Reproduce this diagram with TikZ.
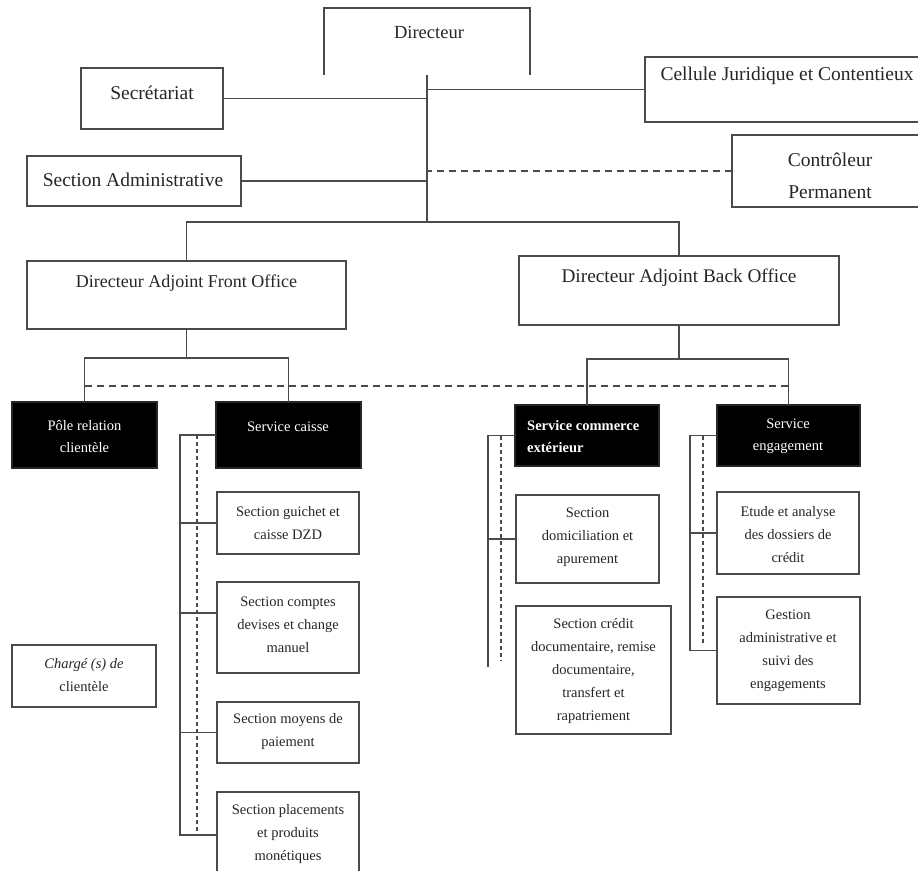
\documentclass[tikz,border=0pt]{standalone}
\usepackage{fontspec}
\setmainfont{Liberation Serif}
\usetikzlibrary{calc}
\definecolor{ln}{HTML}{4A4A4A}
\definecolor{tx}{HTML}{262626}
\begin{document}
\begin{tikzpicture}[x=1pt,y=-1pt,
  box/.style={draw=ln, line width=1.8pt, fill=white, inner sep=0pt, outer sep=0pt, anchor=north west},
  blk/.style={draw=black!85, line width=1.2pt, fill=black, inner sep=0pt, outer sep=0pt, anchor=north west},
  con/.style={draw=ln, line width=1.8pt},
  dl/.style={draw=ln, line width=1.9pt, dash pattern=on 7pt off 5pt},
  rail/.style={draw=ln, line width=1.5pt, dash pattern=on 4pt off 3pt},
  big/.style={text=tx, inner sep=0pt, align=center, font=\fontsize{19.5}{32}\selectfont},
  mid/.style={text=tx, inner sep=0pt, align=center, font=\fontsize{18.5}{23}\selectfont},
  sml/.style={text=tx, inner sep=0pt, align=center, font=\fontsize{14.5}{23}\selectfont},
  wht/.style={text=white, inner sep=0pt, align=center, font=\fontsize{14.5}{22.5}\selectfont}
]
\useasboundingbox[fill=white] (0,0) rectangle (918,870);

% boxes
\node[box, draw=none, minimum width=206pt, minimum height=67pt] (dir) at (324,8) {};
\draw[con] (dir.south west) |- (dir.north east) -- (dir.south east);
\node[box, minimum width=142pt, minimum height=61pt] (sec) at (81,68) {};
\node[box, minimum width=290pt, minimum height=65pt] (cel) at (645,57) {};
\node[box, minimum width=214pt, minimum height=50pt] (sa) at (27,156) {};
\node[box, minimum width=200pt, minimum height=72pt] (ctrl) at (732,135) {};
\node[box, minimum width=319pt, minimum height=68pt] (dafo) at (27,261) {};
\node[box, minimum width=320pt, minimum height=69pt] (dabo) at (519,256) {};
\node[blk, minimum width=145pt, minimum height=66pt] (pole) at (12,402) {};
\node[blk, minimum width=145pt, minimum height=66pt] (caisse) at (216,402) {};
\node[blk, minimum width=144pt, minimum height=61pt] (sce) at (515,405) {};
\node[blk, minimum width=143pt, minimum height=61pt] (seng) at (717,405) {};
\node[box, minimum width=144pt, minimum height=62pt] (charge) at (12,645) {};
\node[box, minimum width=142pt, minimum height=62pt] (g1) at (217,492) {};
\node[box, minimum width=142pt, minimum height=91pt] (g2) at (217,582) {};
\node[box, minimum width=142pt, minimum height=61pt] (g3) at (217,702) {};
\node[box, minimum width=142pt, minimum height=100pt] (g4) at (217,792) {};
\node[box, minimum width=143pt, minimum height=88pt] (d1) at (516,495) {};
\node[box, minimum width=155pt, minimum height=128pt] (d2) at (516,606) {};
\node[box, minimum width=142pt, minimum height=82pt] (e1) at (717,492) {};
\node[box, minimum width=143pt, minimum height=107pt] (e2) at (717,597) {};

% top connectors
\coordinate (j0) at (427,222);
\draw[con] (dir.south) -- (j0);
\draw[con] (sec.east) -- (sec.east -| j0);
\draw[con] (cel.west) -- (cel.west -| j0);
\draw[con] (sa.east) -- (sa.east -| j0);
\draw[dl] (ctrl.west) -- (ctrl.west -| j0);
\draw[con] (dafo.north) -- (dafo.north |- j0) -- (dabo.north |- j0) -- (dabo.north);

% front office
\coordinate (jf) at (0,358);
\draw[con] (dafo.south) -- (dafo.south |- jf);
\draw[con] (pole.north) -- (pole.north |- jf) -- (caisse.north |- jf) -- (caisse.north);
% back office
\coordinate (jb) at (0,359);
\draw[con] (dabo.south) -- (dabo.south |- jb);
\draw[con] (sce.north) -- (sce.north |- jb) -- (seng.north |- jb) -- (seng.north);
% dashed link
\coordinate (jd) at (0,386);
\draw[dl] (pole.north |- jd) -- (seng.north |- jd);

% caisse rail
\coordinate (rc) at (180,835);
\coordinate (rcd) at (197,835);
\coordinate (g2c) at ($(g2.north west)+(0,31)$);
\draw[con] (caisse.west) -- (caisse.west -| rc) -- (rc) -- (rc -| g4.west);
\draw[rail] (caisse.west -| rcd) -- (rcd);
\draw[con] (g1.west) -- (g1.west -| rc);
\draw[con] (g2c) -- (g2c -| rc);
\draw[con] (g3.west) -- (g3.west -| rc);

% commerce exterieur rail
\coordinate (rs) at (488,667);
\coordinate (rsd) at (501,660);
\draw[con] (sce.west) -- (sce.west -| rs) -- (rs);
\draw[rail] (sce.west -| rsd) -- (rsd);
\draw[con] (d1.west) -- (d1.west -| rs);

% engagement rail
\coordinate (re) at (690,0);
\coordinate (red) at (703,645);
\draw[con] (seng.west) -- (seng.west -| re) -- (re |- e2.west) -- (e2.west);
\draw[rail] (seng.west -| red) -- (red);
\draw[con] (e1.west) -- (e1.west -| re);

% texts
\node[mid] at (429,32) {Directeur};
\node[big] at (152,93) {Secrétariat};
\node[big] at (787,76) {Cellule Juridique et Contentieux};
\node[big] at (133,180) {Section Administrative};
\node[big] at (830,176) {Contrôleur\\Permanent};
\node[mid, font=\fontsize{18}{23}\selectfont] at (186.5,283) {Directeur Adjoint Front Office};
\node[mid, font=\fontsize{19.3}{23}\selectfont] at (679,278) {Directeur Adjoint Back Office};
\node[wht] at (84.5,436.5) {Pôle relation\\clientèle};
\node[wht] at (288,427) {Service caisse};
\node[wht, align=left, anchor=west, font=\fontsize{14.5}{22.5}\selectfont\bfseries] at (527,436.5) {Service commerce\\extérieur};
\node[wht] at (788,436.5) {Service\\engagement};
\node[sml] at (84,675.5) {\itshape Chargé (s) de\\clientèle};
\node[sml] at (288,523) {Section guichet et\\caisse DZD};
\node[sml] at (288,625) {Section comptes\\devises et change\\manuel};
\node[sml] at (288,732) {Section moyens de\\paiement};
\node[sml] at (288,834) {Section placements\\et produits\\monétiques};
\node[sml] at (587.5,537) {Section\\domiciliation et\\apurement};
\node[sml] at (593.5,671) {Section crédit\\documentaire, remise\\documentaire,\\transfert et\\rapatriement};
\node[sml] at (788,535) {Etude et analyse\\des dossiers de\\crédit};
\node[sml] at (788,651) {Gestion\\administrative et\\suivi des\\engagements};
\end{tikzpicture}
\end{document}
